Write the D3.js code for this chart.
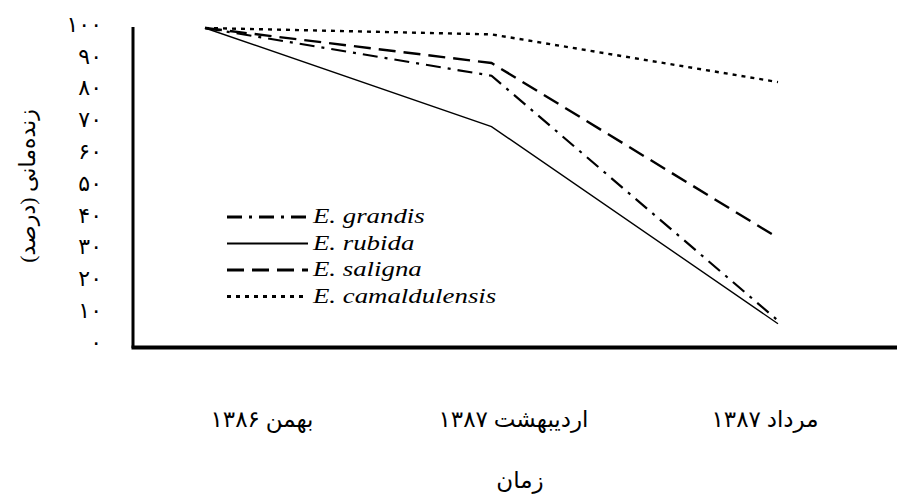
<!DOCTYPE html>
<html>
<head>
    <meta charset="utf-8">
    <title>Eucalyptus survival</title>
    <style type="text/css">
        body {
            margin: 0;
            background: #fff;
        }

        .axis-line {
            stroke: #000;
            fill: none;
        }

        .fa {
            font-family: "Liberation Serif", "Times New Roman", "DejaVu Sans", serif;
            fill: #000;
        }

        .legend-label {
            font-family: "Liberation Serif", "Times New Roman", Times, serif;
            font-style: italic;
            font-size: 22px;
            fill: #000;
        }

        .series {
            fill: none;
            stroke: #000;
        }
    </style>
</head>
<body>
    <div id="chart"></div>
    <script src="https://d3js.org/d3.v7.min.js"></script>
    <script>

      var width = 897,
          height = 497;

      //  Sampling dates (Persian calendar)
      var periods = ["بهمن ۱۳۸۶", "اردیبهشت ۱۳۸۷", "مرداد ۱۳۸۷"];

      //  Survival (%) per species
      var grandis       = [100, 85, 8];
      var rubida        = [100, 69, 7];
      var saligna       = [100, 89, 34];
      var camaldulensis = [100, 98, 83];

      var species = ["E. grandis", "E. rubida", "E. saligna", "E. camaldulensis"];
      var yTicks = [0, 10, 20, 30, 40, 50, 60, 70, 80, 90, 100];

      var seriesList = [
        { name: species[0], values: grandis,       dash: "15,7,3,7", width: 2.2 },
        { name: species[1], values: rubida,        dash: null,       width: 1.4 },
        { name: species[2], values: saligna,       dash: "17,8",     width: 2.4 },
        { name: species[3], values: camaldulensis, dash: "4,5",      width: 2.4 }
      ];

      function toPersian(n) {
        return String(n).replace(/[0-9]/g, function (c) { return "۰۱۲۳۴۵۶۷۸۹"[+c]; });
      }

      var svg = d3.select("#chart")
          .append("svg")
          .attr("width", width)
          .attr("height", height);

      //  Data positions and the category labels use separate point scales
      var x = d3.scalePoint().domain(periods).range([205, 778]);
      var xLabel = d3.scalePoint().domain(periods).range([262, 765]);
      var y = d3.scaleLinear().domain([0, 100]).range([346, 28]);

      //  Y tick labels
      var yAxis = d3.axisLeft(y)
          .tickValues(yTicks)
          .tickSize(0)
          .tickPadding(31)
          .tickFormat(toPersian);

      var gy = svg.append("g")
          .attr("transform", "translate(133,0)")
          .call(yAxis);
      gy.select(".domain").remove();
      gy.selectAll("text")
          .attr("class", "fa")
          .attr("dy", "0.15em")
          .style("font-size", "22px");

      //  Category labels
      svg.append("g").selectAll("text")
          .data(periods)
          .enter().append("text")
          .attr("class", "fa")
          .attr("x", function (d) { return xLabel(d); })
          .attr("y", 427)
          .attr("text-anchor", "middle")
          .style("font-size", "23px")
          .text(function (d) { return d; });

      //  Axis titles
      svg.append("text")
          .attr("class", "fa")
          .attr("x", 520)
          .attr("y", 488)
          .attr("text-anchor", "middle")
          .style("font-size", "23px")
          .text("زمان");

      svg.append("text")
          .attr("class", "fa")
          .attr("transform", "translate(35,186) rotate(-90)")
          .attr("text-anchor", "middle")
          .style("font-size", "22px")
          .text("زنده‌مانی (درصد)");

      //  Series lines
      var line = d3.line()
          .x(function (d, i) { return x(periods[i]); })
          .y(function (d) { return y(d); });

      svg.append("g").selectAll("path")
          .data(seriesList)
          .enter().append("path")
          .attr("class", "series")
          .attr("d", function (d) { return line(d.values); })
          .attr("stroke-width", function (d) { return d.width; })
          .attr("stroke-dasharray", function (d) { return d.dash; });

      //  Axes as thick frame lines
      svg.append("line").attr("class", "axis-line")
          .attr("x1", 133).attr("x2", 133)
          .attr("y1", 27).attr("y2", y(0) + 2)
          .attr("stroke-width", 3);
      svg.append("line").attr("class", "axis-line")
          .attr("x1", 131.5).attr("x2", width)
          .attr("y1", y(0) + 1.5).attr("y2", y(0) + 1.5)
          .attr("stroke-width", 4);

      //  Legend
      var legend = svg.append("g").attr("transform", "translate(227,217)");
      var row = legend.selectAll("g")
          .data(seriesList)
          .enter().append("g")
          .attr("transform", function (d, i) { return "translate(0," + (i * 26.5) + ")"; });

      row.append("line")
          .attr("class", "series")
          .attr("x1", 0).attr("x2", 81)
          .attr("y1", 0).attr("y2", 0)
          .attr("stroke-width", function (d) { return d.width + 0.6; })
          .attr("stroke-dasharray", function (d) { return d.dash; });

      row.append("text")
          .attr("class", "legend-label")
          .attr("x", 86)
          .attr("y", 6)
          .attr("transform", "translate(86,0) scale(1.22,1) translate(-86,0)")
          .text(function (d) { return d.name; });

    </script>
</body>
</html>
